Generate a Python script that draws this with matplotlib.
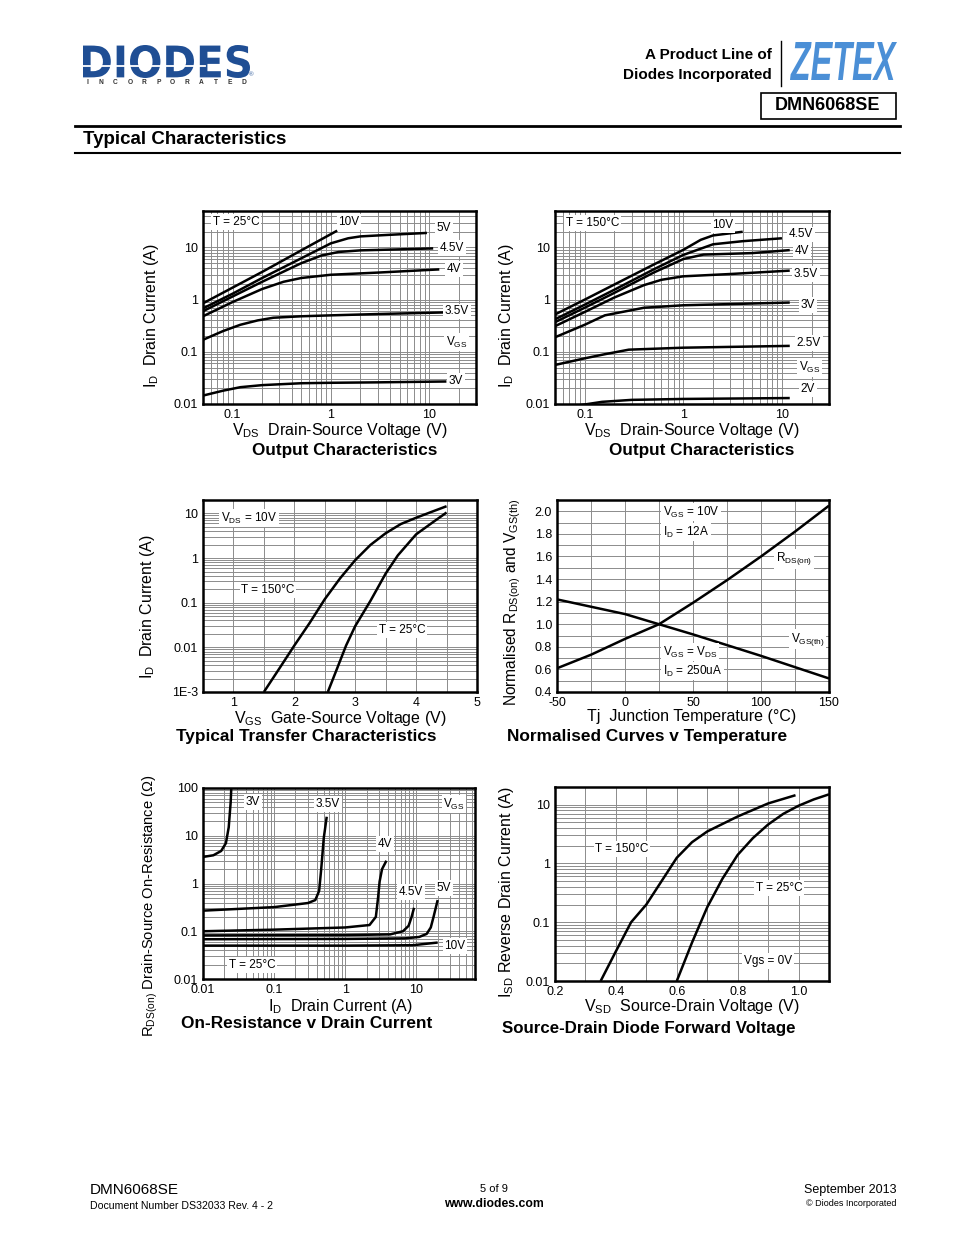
import numpy as np
import matplotlib
matplotlib.use("Agg")
import matplotlib.pyplot as plt
from matplotlib.textpath import TextPath
from matplotlib.patches import PathPatch, Rectangle
from matplotlib.font_manager import FontProperties
from matplotlib.transforms import Affine2D
from matplotlib.ticker import LogLocator, MultipleLocator, NullFormatter

plt.rcParams['font.family'] = ['Liberation Sans', 'DejaVu Sans']
plt.rcParams['mathtext.fontset'] = 'custom'
plt.rcParams['mathtext.rm'] = 'Liberation Sans'
plt.rcParams['mathtext.it'] = 'Liberation Sans:italic'
plt.rcParams['mathtext.bf'] = 'Liberation Sans:bold'

W, H = 954, 1235
GRID = '#8c8c8c'
BLUE_DIODES = '#1f4e94'
BLUE_ZETEX = '#4b8fd6'

# ---- output characteristics, T = 25C  (VDS in V, ID in A)
out25_3v_x = [0.05, 0.08, 0.12, 0.2, 0.5, 1, 3, 15]
out25_3v_y = [0.0145, 0.018, 0.021, 0.023, 0.025, 0.0255, 0.026, 0.027]
out25_35v_x = [0.05, 0.08, 0.12, 0.18, 0.26, 0.5, 1, 3, 15]
out25_35v_y = [0.17, 0.25, 0.33, 0.40, 0.45, 0.48, 0.5, 0.53, 0.57]
out25_4v_x = [0.05, 0.1, 0.2, 0.33, 0.5, 1, 3, 12.7]
out25_4v_y = [0.48, 0.9, 1.6, 2.2, 2.6, 3.0, 3.3, 3.8]
out25_45v_x = [0.05, 0.1, 0.2, 0.5, 0.8, 1.2, 2, 5, 11]
out25_45v_y = [0.6, 1.15, 2.2, 5.0, 7.0, 8.2, 8.8, 9.2, 9.6]
out25_5v_x = [0.05, 0.1, 0.2, 0.5, 1, 1.5, 2, 4, 9.5]
out25_5v_y = [0.68, 1.3, 2.6, 6.2, 12.0, 15.0, 16.3, 17.5, 19.0]
out25_10v_x = [0.05, 0.2, 0.5, 1.16]
out25_10v_y = [0.85, 3.4, 8.8, 21.0]

# ---- output characteristics, T = 150C
out150_2v_x = [0.09, 0.15, 0.3, 1, 12]
out150_2v_y = [0.0095, 0.011, 0.012, 0.0125, 0.013]
out150_25v_x = [0.05, 0.1, 0.16, 0.28, 1, 12]
out150_25v_y = [0.056, 0.075, 0.09, 0.11, 0.12, 0.13]
out150_3v_x = [0.05, 0.1, 0.16, 0.4, 1, 12]
out150_3v_y = [0.19, 0.33, 0.5, 0.7, 0.78, 0.88]
out150_35v_x = [0.05, 0.1, 0.2, 0.4, 0.6, 1, 3, 12]
out150_35v_y = [0.31, 0.58, 1.1, 1.9, 2.4, 2.8, 3.1, 3.6]
out150_4v_x = [0.05, 0.1, 0.2, 0.5, 1, 1.6, 5, 12]
out150_4v_y = [0.37, 0.7, 1.35, 3.3, 6.0, 7.3, 7.8, 8.9]
out150_45v_x = [0.05, 0.1, 0.2, 0.5, 1, 2, 4, 10]
out150_45v_y = [0.42, 0.8, 1.55, 3.8, 7.2, 11.5, 13.2, 15.0]
out150_10v_x = [0.05, 0.1, 0.2, 0.5, 1, 1.5, 2, 4]
out150_10v_y = [0.52, 1.0, 1.95, 4.7, 9.0, 14.0, 17.0, 20.0]

# ---- transfer characteristics (VGS in V, ID in A)
tr150_x = [1.5, 1.75, 2.0, 2.25, 2.5, 2.75, 3.0, 3.25, 3.5, 3.75, 4.0, 4.25, 4.5]
tr150_y = [0.001, 0.0033, 0.011, 0.035, 0.12, 0.35, 0.9, 1.97, 3.6, 5.8, 8.0, 10.8, 14.5]
tr25_x = [2.55, 2.7, 2.85, 3.0, 3.25, 3.5, 3.7, 4.0, 4.25, 4.5]
tr25_y = [0.001, 0.0033, 0.011, 0.03, 0.11, 0.45, 1.15, 3.4, 6.0, 10.5]

# ---- normalised curves v temperature
temp_x = [-50, -25, 0, 25, 50, 75, 100, 125, 150]
rdson_norm = [0.61, 0.73, 0.87, 1.0, 1.19, 1.39, 1.60, 1.82, 2.05]
vth_norm = [1.22, 1.155, 1.09, 1.0, 0.91, 0.815, 0.72, 0.62, 0.52]

# ---- on-resistance v drain current (ID in A, RDS in ohm)
ron_3v_x = [0.01, 0.014, 0.018, 0.021, 0.023, 0.0245, 0.025]
ron_3v_y = [3.6, 3.9, 4.8, 7.0, 15.0, 50.0, 100.0]
ron_35v_x = [0.01, 0.1, 0.3, 0.38, 0.43, 0.46, 0.5, 0.55]
ron_35v_y = [0.27, 0.32, 0.39, 0.45, 0.7, 2.0, 9.0, 25.0]
ron_4v_x = [0.01, 0.1, 1, 2.2, 2.7, 2.9, 3.05, 3.3, 3.8]
ron_4v_y = [0.1, 0.108, 0.12, 0.135, 0.2, 0.5, 1.1, 2.0, 3.0]
ron_45v_x = [0.01, 1, 4.3, 6.5, 7.8, 8.6, 9.3]
ron_45v_y = [0.082, 0.083, 0.086, 0.1, 0.13, 0.2, 0.31]
ron_5v_x = [0.01, 1, 7, 11, 14, 16, 17.5, 20]
ron_5v_y = [0.068, 0.069, 0.071, 0.076, 0.088, 0.12, 0.2, 0.45]
ron_10v_x = [0.01, 1, 9, 20]
ron_10v_y = [0.05, 0.05, 0.051, 0.058]

# ---- source-drain diode forward voltage (VSD in V, ISD in A)
sd150_x = [0.35, 0.4, 0.45, 0.5, 0.55, 0.6, 0.65, 0.7, 0.8, 0.9, 0.99]
sd150_y = [0.01, 0.032, 0.1, 0.2, 0.5, 1.25, 2.3, 3.5, 6.3, 10.5, 14.5]
sd25_x = [0.6, 0.65, 0.7, 0.75, 0.8, 0.85, 0.9, 0.95, 1.0, 1.05, 1.1]
sd25_y = [0.01, 0.045, 0.18, 0.55, 1.4, 2.7, 4.6, 7.0, 9.6, 12.3, 15.0]

fig = plt.figure(figsize=(W / 100, H / 100), dpi=100)

# page overlay in pixel coords (y down)
page = fig.add_axes([0, 0, 1, 1])
page.set_xlim(0, W)
page.set_ylim(H, 0)
page.axis('off')


def px_axes(l, t, r, b):
    return fig.add_axes([l / W, 1 - b / H, (r - l) / W, (b - t) / H])


def logo(text, x0, y0, x1, y1, color, family='Liberation Sans', style='normal'):
    fp = FontProperties(family=family, weight='bold', style=style)
    tp = TextPath((0, 0), text, size=1, prop=fp)
    ext = tp.get_extents()
    sx = (x1 - x0) / ext.width
    sy = (y1 - y0) / ext.height
    tr = Affine2D().translate(-ext.x0, -ext.y0).scale(sx, -sy).translate(x0, y1)
    page.add_patch(PathPatch(tr.transform_path(tp), color=color, lw=0))


def style_axes(ax, xlim, ylim, xticks, xtl, yticks, ytl, xlog, ylog, xminor=None, yminor=None):
    if xlog:
        ax.set_xscale('log')
    if ylog:
        ax.set_yscale('log')
    ax.set_xlim(xlim)
    ax.set_ylim(ylim)
    ax.set_xticks(xticks)
    ax.set_xticklabels(xtl)
    ax.set_yticks(yticks)
    ax.set_yticklabels(ytl)
    if xlog:
        ax.xaxis.set_minor_locator(LogLocator(base=10, subs=np.arange(2, 10), numticks=20))
    else:
        ax.xaxis.set_minor_locator(MultipleLocator(xminor))
    if ylog:
        ax.yaxis.set_minor_locator(LogLocator(base=10, subs=np.arange(2, 10), numticks=20))
    else:
        ax.yaxis.set_minor_locator(MultipleLocator(yminor))
    ax.xaxis.set_minor_formatter(NullFormatter())
    ax.yaxis.set_minor_formatter(NullFormatter())
    ax.tick_params(which='both', length=0, labelsize=9, pad=3.5)
    ax.grid(True, which='both', color=GRID, lw=0.7)
    ax.set_axisbelow(True)
    for s in ax.spines.values():
        s.set_linewidth(1.8)


def lab(ax, fx, fy, s, ha='center'):
    ax.text(fx, fy, s, transform=ax.transAxes, fontsize=8.5, ha=ha, va='center',
            bbox=dict(facecolor='white', edgecolor='none', pad=1.2), zorder=5)


def curve(ax, x, y):
    ax.plot(x, y, color='black', lw=1.8, solid_capstyle='butt', zorder=4)


def ptext(x, y, s, size, weight='normal', ha='center', rot=0):
    page.text(x, y, s, fontsize=size, fontweight=weight, ha=ha, va='center', rotation=rot)


VGS = r'$\mathregular{V_{GS}}$'

# ---------------- header ----------------
logo('DIODES', 83, 45, 250, 78, BLUE_DIODES, family='DejaVu Sans')
page.plot([83, 205], [66, 66], color='white', lw=1.3)
for i, ch in enumerate('INCORPORATED'):
    page.text(87 + i * 14.3, 83, ch, fontsize=4.8, fontweight='bold', color='#333333', ha='center', va='center')
page.text(251, 75, '®', fontsize=4.5, color=BLUE_DIODES, ha='center', va='center')
ptext(772, 55, 'A Product Line of', 11, 'bold', ha='right')
ptext(772, 75, 'Diodes Incorporated', 11, 'bold', ha='right')
page.plot([781, 781], [41, 86], color='black', lw=1)
logo('ZETEX', 790, 42, 897, 80, BLUE_ZETEX, style='italic')
page.add_patch(Rectangle((761, 93), 135, 26, fill=False, lw=1.2, ec='black'))
ptext(828, 106, 'DMN6068SE', 13, 'bold')
page.plot([75, 900], [126, 126], color='black', lw=2)
page.plot([75, 900], [153, 153], color='black', lw=1.5)
ptext(83, 140, 'Typical Characteristics', 13.5, 'bold', ha='left')

# ---------------- chart 1: output 25C ----------------
ax1 = px_axes(203, 211, 476, 404)
for x, y in [(out25_3v_x, out25_3v_y), (out25_35v_x, out25_35v_y), (out25_4v_x, out25_4v_y),
             (out25_45v_x, out25_45v_y), (out25_5v_x, out25_5v_y), (out25_10v_x, out25_10v_y)]:
    curve(ax1, x, y)
style_axes(ax1, (0.05, 30), (0.01, 50), [0.1, 1, 10], ['0.1', '1', '10'],
           [0.01, 0.1, 1, 10], ['0.01', '0.1', '1', '10'], True, True)
lab(ax1, 0.037, 0.943, 'T = 25°C', ha='left')
lab(ax1, 0.535, 0.943, '10V')
lab(ax1, 0.883, 0.912, '5V')
lab(ax1, 0.912, 0.808, '4.5V')
lab(ax1, 0.919, 0.70, '4V')
lab(ax1, 0.93, 0.48, '3.5V')
lab(ax1, 0.93, 0.32, VGS)
lab(ax1, 0.927, 0.12, '3V')

# ---------------- chart 2: output 150C ----------------
ax2 = px_axes(555, 211, 829, 404)
for x, y in [(out150_2v_x, out150_2v_y), (out150_25v_x, out150_25v_y), (out150_3v_x, out150_3v_y),
             (out150_35v_x, out150_35v_y), (out150_4v_x, out150_4v_y), (out150_45v_x, out150_45v_y),
             (out150_10v_x, out150_10v_y)]:
    curve(ax2, x, y)
style_axes(ax2, (0.05, 30), (0.01, 50), [0.1, 1, 10], ['0.1', '1', '10'],
           [0.01, 0.1, 1, 10], ['0.01', '0.1', '1', '10'], True, True)
lab(ax2, 0.04, 0.938, 'T = 150°C', ha='left')
lab(ax2, 0.613, 0.927, '10V')
lab(ax2, 0.898, 0.88, '4.5V')
lab(ax2, 0.90, 0.793, '4V')
lab(ax2, 0.916, 0.674, '3.5V')
lab(ax2, 0.923, 0.513, '3V')
lab(ax2, 0.927, 0.316, '2.5V')
lab(ax2, 0.93, 0.19, VGS)
lab(ax2, 0.923, 0.078, '2V')

# ---------------- chart 3: transfer ----------------
ax3 = px_axes(203, 500, 477, 692)
curve(ax3, tr150_x, tr150_y)
curve(ax3, tr25_x, tr25_y)
style_axes(ax3, (0.5, 5), (0.001, 20), [1, 2, 3, 4, 5], ['1', '2', '3', '4', '5'],
           [0.001, 0.01, 0.1, 1, 10], ['1E-3', '0.01', '0.1', '1', '10'], False, True, xminor=0.5)
lab(ax3, 0.066, 0.906, r'$\mathregular{V_{DS}}$ = 10V', ha='left')
lab(ax3, 0.237, 0.531, 'T = 150°C')
lab(ax3, 0.726, 0.323, 'T = 25°C')

# ---------------- chart 4: normalised v temperature ----------------
ax4 = px_axes(557, 500, 829, 692)
curve(ax4, temp_x, rdson_norm)
curve(ax4, temp_x, vth_norm)
yt4 = np.arange(0.4, 2.01, 0.2)
style_axes(ax4, (-50, 150), (0.4, 2.1), [-50, 0, 50, 100, 150], ['-50', '0', '50', '100', '150'],
           yt4, ['%.1f' % v for v in yt4], False, False, xminor=25, yminor=0.1)
lab(ax4, 0.39, 0.9375, VGS + ' = 10V', ha='left')
lab(ax4, 0.39, 0.833, r'$\mathregular{I_D}$ = 12A', ha='left')
lab(ax4, 0.39, 0.208, VGS + r' = $\mathregular{V_{DS}}$', ha='left')
lab(ax4, 0.39, 0.109, r'$\mathregular{I_D}$ = 250uA', ha='left')
lab(ax4, 0.805, 0.693, r'$\mathregular{R_{DS(on)}}$', ha='left')
lab(ax4, 0.86, 0.276, r'$\mathregular{V_{GS(th)}}$', ha='left')

# ---------------- chart 5: on-resistance ----------------
ax5 = px_axes(203, 788, 475, 979)
for x, y in [(ron_3v_x, ron_3v_y), (ron_35v_x, ron_35v_y), (ron_4v_x, ron_4v_y),
             (ron_45v_x, ron_45v_y), (ron_5v_x, ron_5v_y), (ron_10v_x, ron_10v_y)]:
    curve(ax5, x, y)
style_axes(ax5, (0.01, 67), (0.01, 100), [0.01, 0.1, 1, 10], ['0.01', '0.1', '1', '10'],
           [0.01, 0.1, 1, 10, 100], ['0.01', '0.1', '1', '10', '100'], True, True)
lab(ax5, 0.184, 0.927, '3V')
lab(ax5, 0.46, 0.916, '3.5V')
lab(ax5, 0.923, 0.916, VGS)
lab(ax5, 0.669, 0.707, '4V')
lab(ax5, 0.765, 0.455, '4.5V')
lab(ax5, 0.886, 0.476, '5V')
lab(ax5, 0.926, 0.173, '10V')
lab(ax5, 0.18, 0.073, 'T = 25°C')

# ---------------- chart 6: diode forward voltage ----------------
ax6 = px_axes(555, 787, 829, 981)
curve(ax6, sd150_x, sd150_y)
curve(ax6, sd25_x, sd25_y)
style_axes(ax6, (0.2, 1.1), (0.01, 20), [0.2, 0.4, 0.6, 0.8, 1.0], ['0.2', '0.4', '0.6', '0.8', '1.0'],
           [0.01, 0.1, 1, 10], ['0.01', '0.1', '1', '10'], False, True, xminor=0.1)
lab(ax6, 0.245, 0.68, 'T = 150°C')
lab(ax6, 0.818, 0.479, 'T = 25°C')
lab(ax6, 0.777, 0.103, 'Vgs = 0V')

# ---------------- axis labels and titles ----------------
ID_LAB = r'$\mathregular{I_D}$  Drain Current (A)'
ptext(152, 316, ID_LAB, 11.5, rot=90)
ptext(506, 316, ID_LAB, 11.5, rot=90)
ptext(148, 607, ID_LAB, 11.5, rot=90)
ptext(513, 602, r'Normalised $\mathregular{R_{DS(on)}}$ and $\mathregular{V_{GS(th)}}$', 11.2, rot=90)
ptext(150, 906, r'$\mathregular{R_{DS(on)}}$ Drain-Source On-Resistance (Ω)', 10.6, rot=90)
ptext(507, 892, r'$\mathregular{I_{SD}}$ Reverse Drain Current (A)', 11.5, rot=90)

ptext(340, 430, r'$\mathregular{V_{DS}}$  Drain-Source Voltage (V)', 11.5)
ptext(692, 430, r'$\mathregular{V_{DS}}$  Drain-Source Voltage (V)', 11.5)
ptext(340, 718, r'$\mathregular{V_{GS}}$  Gate-Source Voltage (V)', 11.5)
ptext(692, 716, 'Tj  Junction Temperature (°C)', 11.5)
ptext(340, 1006, r'$\mathregular{I_D}$  Drain Current (A)', 11.5)
ptext(692, 1006, r'$\mathregular{V_{SD}}$  Source-Drain Voltage (V)', 11.5)

ptext(345, 450, 'Output Characteristics', 12.3, 'bold')
ptext(702, 450, 'Output Characteristics', 12.3, 'bold')
ptext(306, 737, 'Typical Transfer Characteristics', 12.4, 'bold')
ptext(647, 737, 'Normalised Curves v Temperature', 12.4, 'bold')
ptext(307, 1024, 'On-Resistance v Drain Current', 12.4, 'bold')
ptext(649, 1028, 'Source-Drain Diode Forward Voltage', 12.2, 'bold')

# ---------------- footer ----------------
ptext(90, 1190, 'DMN6068SE', 11, ha='left')
ptext(90, 1206, 'Document Number DS32033 Rev. 4 - 2', 7.6, ha='left')
ptext(494, 1189, '5 of 9', 8)
ptext(494, 1204, 'www.diodes.com', 8.8, 'bold')
ptext(897, 1190, 'September 2013', 9, ha='right')
ptext(897, 1204, '© Diodes Incorporated', 6.5, ha='right')

fig.savefig('out.png', dpi=100, facecolor='white')
